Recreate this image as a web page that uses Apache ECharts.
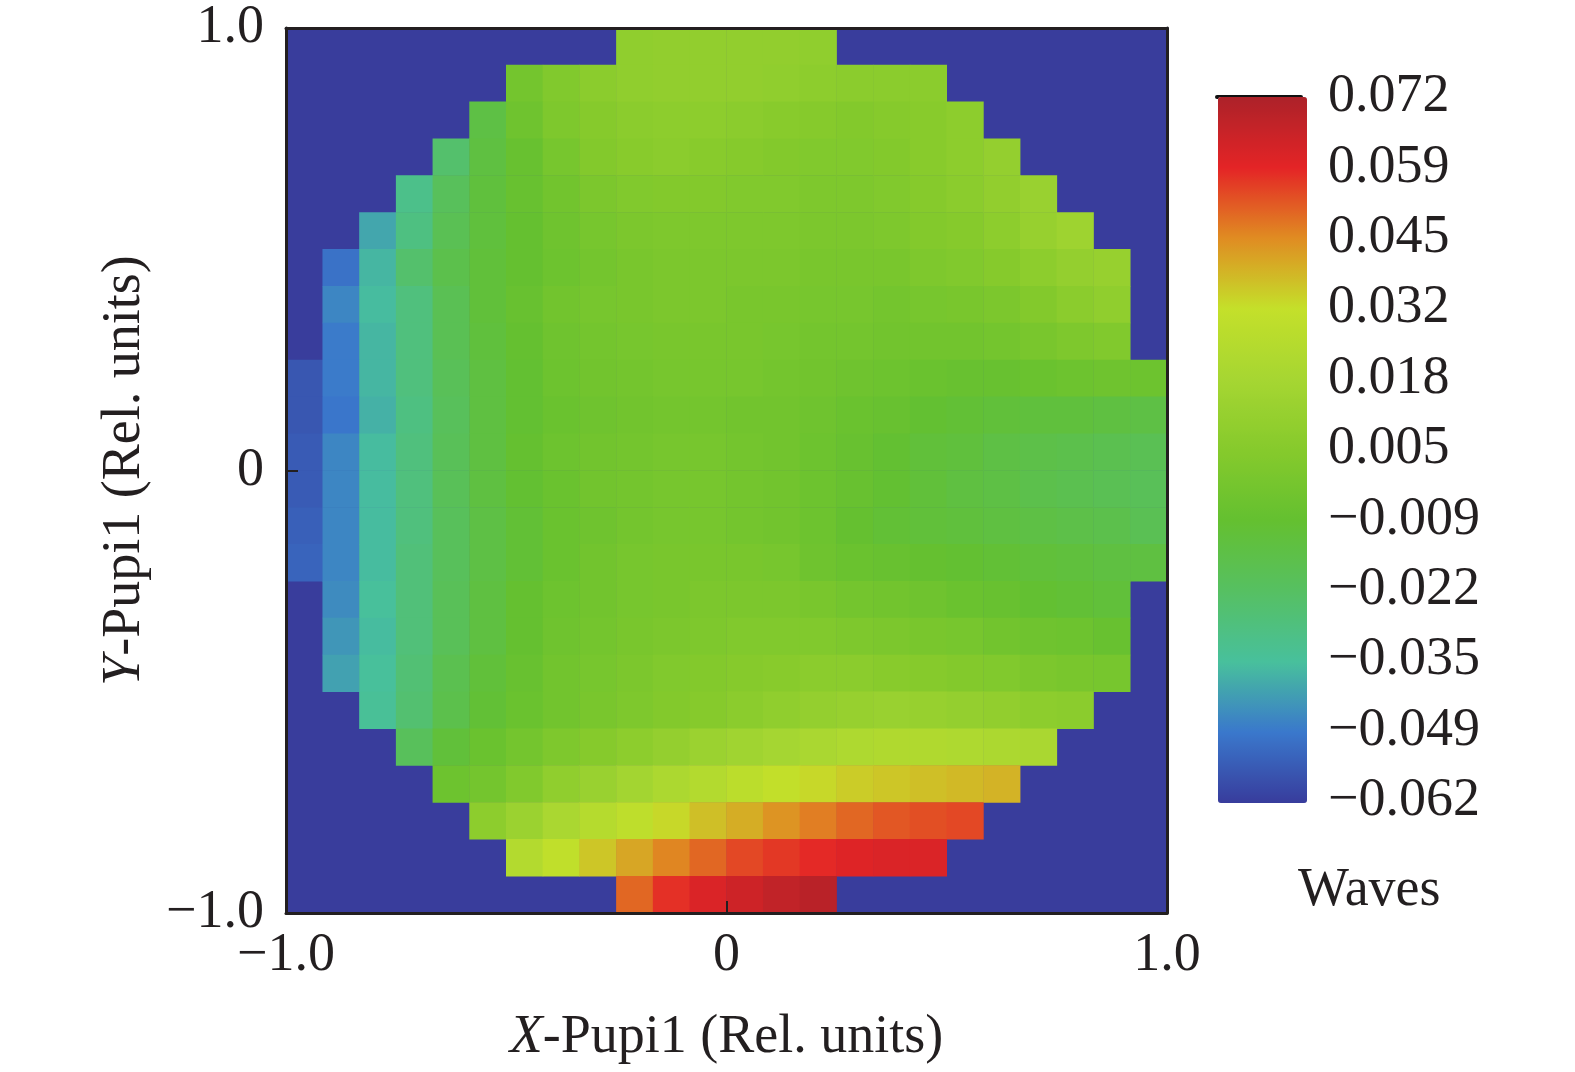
<!DOCTYPE html>
<html>
<head>
<meta charset="utf-8">
<title>Wavefront map</title>
<script src="https://cdn.jsdelivr.net/npm/echarts@6.0.0/dist/echarts.min.js"></script>
<style>
  html, body { margin: 0; padding: 0; background: #ffffff; }
  #chart { width: 1575px; height: 1072px; }
</style>
</head>
<body>
<div id="chart"></div>
<script>
// cell centres of the pupil grid (rel. units), same for x and y
var cellCentres = ['-0.958', '-0.875', '-0.792', '-0.708', '-0.625', '-0.542',
  '-0.458', '-0.375', '-0.292', '-0.208', '-0.125', '-0.042',
  '0.042', '0.125', '0.208', '0.292', '0.375', '0.458',
  '0.542', '0.625', '0.708', '0.792', '0.875', '0.958']

// wavefront values, in milli-waves (1e-3 waves)
// one row per cell row, top of the pupil first; _ = outside the pupil
var _ = null
var waveRows = [
  [_, _, _, _, _, _, _, _, _, 9, 10, 10, 10, 10, 9, _, _, _, _, _, _, _, _, _],
  [_, _, _, _, _, _, -2, 3, 7, 9, 10, 10, 10, 9, 8, 7, 7, 7, _, _, _, _, _, _],
  [_, _, _, _, _, -14, -4, 2, 5, 7, 8, 8, 7, 6, 5, 4, 5, 6, 8, _, _, _, _, _],
  [_, _, _, _, -24, -13, -7, -1, 4, 6, 7, 6, 5, 4, 3, 3, 4, 6, 8, 11, _, _, _, _],
  [_, _, _, -31, -20, -12, -7, -3, 1, 3, 4, 4, 3, 3, 2, 2, 3, 5, 7, 10, 13, _, _, _],
  [_, _, -40, -29, -18, -12, -8, -4, -1, 1, 2, 2, 2, 2, 1, 1, 2, 4, 5, 8, 12, 15, _, _],
  [_, -50, -37, -24, -16, -11, -8, -5, -2, 0, 1, 1, 1, 1, 0, 0, 0, 2, 3, 5, 8, 11, 12, _],
  [_, -46, -36, -28, -18, -11, -7, -3, -1, 0, 1, 1, 0, 0, -1, -1, -2, -1, 0, 1, 4, 7, 9, _],
  [_, -48, -37, -28, -18, -12, -8, -4, -2, -1, 0, 0, 0, -1, -2, -2, -3, -3, -3, -2, 0, 2, 3, _],
  [-56, -48, -37, -28, -19, -13, -9, -5, -3, -2, -1, -1, -1, -2, -3, -4, -5, -6, -7, -7, -6, -5, -4, -5],
  [-56, -49, -38, -29, -20, -13, -9, -6, -4, -3, -2, -2, -3, -3, -4, -6, -7, -9, -10, -11, -12, -12, -13, -14],
  [-55, -46, -36, -28, -19, -13, -8, -5, -3, -2, -1, -1, -2, -3, -5, -7, -9, -11, -12, -14, -15, -16, -17, -18],
  [-55, -46, -36, -28, -19, -13, -9, -6, -3, -2, -1, -1, -2, -3, -5, -7, -9, -11, -13, -14, -16, -17, -18, -19],
  [-54, -46, -36, -28, -20, -14, -10, -6, -4, -2, -1, -1, -2, -3, -5, -8, -10, -11, -12, -13, -14, -15, -16, -18],
  [-53, -46, -36, -27, -20, -14, -10, -6, -3, -1, 0, 0, 0, -1, -4, -6, -7, -8, -9, -10, -11, -12, -13, -13],
  [_, -45, -35, -27, -19, -13, -8, -5, -3, -1, 0, 1, 1, 1, 0, -2, -3, -4, -6, -7, -9, -10, -11, _],
  [_, -43, -36, -27, -19, -13, -8, -4, -2, 0, 1, 2, 3, 3, 3, 2, 1, 0, -1, -3, -4, -5, -7, _],
  [_, -41, -35, -26, -17, -11, -7, -3, -1, 1, 3, 4, 5, 6, 7, 7, 6, 5, 4, 3, 1, 0, -1, _],
  [_, _, -34, -25, -16, -10, -6, -3, 0, 2, 4, 5, 7, 9, 11, 12, 13, 12, 11, 10, 8, 7, _, _],
  [_, _, _, -20, -11, -6, -2, 2, 5, 8, 11, 14, 16, 18, 20, 22, 23, 23, 22, 21, 20, _, _, _],
  [_, _, _, _, -5, -2, 3, 9, 13, 17, 21, 24, 28, 31, 33, 35, 36, 37, 38, 39, _, _, _, _],
  [_, _, _, _, _, 8, 14, 20, 25, 29, 33, 37, 40, 44, 47, 50, 52, 53, 54, _, _, _, _, _],
  [_, _, _, _, _, _, 24, 30, 36, 41, 46, 50, 54, 56, 58, 60, 61, 61, _, _, _, _, _, _],
  [_, _, _, _, _, _, _, _, _, 50, 57, 61, 64, 67, 69, _, _, _, _, _, _, _, _, _]
]

// colour bar range (milli-waves) and its printed labels, bottom to top
var waveMin = -62
var waveMax = 72
var barLabels = ['\u22120.062', '\u22120.049', '\u22120.035', '\u22120.022', '\u22120.009',
  '0.005', '0.018', '0.032', '0.045', '0.059', '0.072']
var barColors = ['#383c9c', '#3a78cc', '#48c09c', '#56c062', '#64c030',
  '#86ca2c', '#a6d632', '#c4e02a', '#e08c22', '#e42426', '#ac2229']

// pupil axis ticks
var pupilTicks = ['\u22121.0', '0', '1.0']

var FONT = 'Liberation Serif'
var INK = '#231f20'

// heatmap cells [col, row, value], row 0 at the bottom
var cells = []
waveRows.forEach(function (row, i) {
  row.forEach(function (v, j) {
    if (v !== null) cells.push([j, waveRows.length - 1 - i, v])
  })
})

function tickName(v) {
  return pupilTicks[Math.round(v) + 1]
}

var frameLine = { show: true, onZero: false, lineStyle: { color: INK, width: 3 } }
var nameStyle = {
  fontFamily: FONT, fontSize: 54, color: INK,
  rich: { it: { fontFamily: FONT, fontSize: 54, fontStyle: 'italic', color: INK } }
}

var myChart = echarts.init(document.getElementById('chart'))

var option = {
  animation: false,
  backgroundColor: '#ffffff',
  textStyle: { fontFamily: FONT },
  title: {
    text: 'Waves',
    left: 1298,
    top: 864,
    padding: 0,
    textStyle: { fontFamily: FONT, fontSize: 54, fontWeight: 'normal', color: INK }
  },
  grid: [
    { left: 286, top: 28, width: 881, height: 885, show: true,
      backgroundColor: '#393d9c', borderWidth: 0 },
    { left: 1217, top: 97, width: 84, height: 704 }
  ],
  xAxis: [
    // heatmap columns
    { type: 'category', gridIndex: 0, data: cellCentres, show: false },
    // printed pupil axis
    { type: 'value', gridIndex: 0, position: 'bottom', min: -1, max: 1, interval: 1, z: 10,
      axisLine: frameLine,
      axisTick: { show: true, inside: true, length: 12, lineStyle: { color: INK, width: 2 } },
      axisLabel: { formatter: tickName, fontFamily: FONT, fontSize: 54, color: INK, margin: 16 },
      splitLine: { show: false },
      name: '{it|X}-Pupi1 (Rel. units)', nameLocation: 'middle', nameGap: 98,
      nameTextStyle: nameStyle },
    { type: 'value', gridIndex: 0, position: 'top', min: -1, max: 1, z: 10,
      axisLine: frameLine, axisTick: { show: false }, axisLabel: { show: false },
      splitLine: { show: false } },
    // colour bar cap
    { type: 'value', gridIndex: 1, position: 'top', min: 0, max: 1,
      axisLine: { show: true, onZero: false, lineStyle: { color: '#111111', width: 4 } },
      axisTick: { show: false }, axisLabel: { show: false }, splitLine: { show: false } }
  ],
  yAxis: [
    { type: 'category', gridIndex: 0, data: cellCentres, show: false },
    { type: 'value', gridIndex: 0, position: 'left', min: -1, max: 1, interval: 1, z: 10,
      axisLine: frameLine,
      axisTick: { show: true, inside: true, length: 12, lineStyle: { color: INK, width: 2 } },
      axisLabel: { formatter: tickName, fontFamily: FONT, fontSize: 54, color: INK, margin: 22 },
      splitLine: { show: false },
      name: '{it|Y}-Pupi1 (Rel. units)', nameLocation: 'middle', nameGap: 134,
      nameTextStyle: nameStyle },
    { type: 'value', gridIndex: 0, position: 'right', min: -1, max: 1, z: 10,
      axisLine: frameLine, axisTick: { show: false }, axisLabel: { show: false },
      splitLine: { show: false } },
    // colour bar labels
    { type: 'category', gridIndex: 1, position: 'right', data: barLabels, boundaryGap: false,
      axisLine: { show: false }, axisTick: { show: false },
      axisLabel: { fontFamily: FONT, fontSize: 54, color: INK, margin: 27, interval: 0 } }
  ],
  visualMap: {
    type: 'continuous',
    seriesIndex: 0,
    min: waveMin,
    max: waveMax,
    calculable: false,
    hoverLink: false,
    orient: 'vertical',
    left: 1218,
    top: 97,
    padding: 0,
    itemWidth: 89,
    itemHeight: 706,
    inRange: { color: barColors }
  },
  series: [
    {
      name: 'wavefront',
      type: 'heatmap',
      xAxisIndex: 0,
      yAxisIndex: 0,
      data: cells,
      itemStyle: { borderWidth: 0 },
      emphasis: { disabled: true }
    }
  ]
}

myChart.setOption(option)
</script>
</body>
</html>
